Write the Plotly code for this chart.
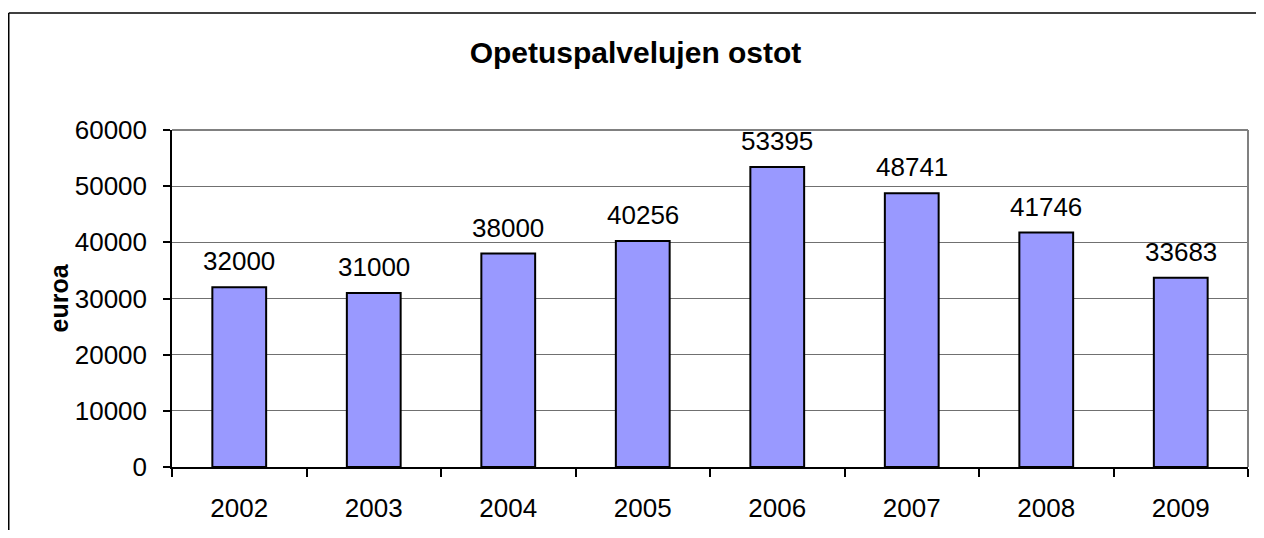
import plotly.graph_objects as go

years = ["2002", "2003", "2004", "2005", "2006", "2007", "2008", "2009"]
values = [32000, 31000, 38000, 40256, 53395, 48741, 41746, 33683]
title_text = "Opetuspalvelujen ostot"
y_title = "euroa"

FONT = "Arial, Liberation Sans, sans-serif"
FS = 26

fig = go.Figure()
fig.add_trace(go.Bar(
    x=years, y=values,
    marker=dict(color="#9999FF", line=dict(color="black", width=2)),
    width=0.4,
    hoverinfo="x+y",
))

for i, v in enumerate(values):
    fig.add_annotation(x=i, y=v, text=str(v), showarrow=False,
                       yanchor="bottom", yshift=9,
                       font=dict(family=FONT, size=FS, color="black"))

# figure sits at page offset (8, 8) because of default body margin
W, H = 1248, 522
L, R, T, B = 164, 8, 122, 63
pw, ph = W - L - R, H - T - B

fig.add_annotation(xref="paper", yref="paper", x=(50 - L) / pw, y=0.5,
                   xanchor="center", yanchor="middle",
                   text="<b>%s</b>" % y_title, textangle=-90, showarrow=False,
                   font=dict(family=FONT, size=25, color="black"))

# outer chart border (left and top)
fig.add_shape(type="line", xref="paper", yref="paper",
              x0=(0.75 - L) / pw, x1=(0.75 - L) / pw,
              y0=-(H - (H - B)) / ph - 0.01, y1=(H - B - 5) / ph,
              line=dict(color="black", width=1.5))
fig.add_shape(type="line", xref="paper", yref="paper",
              x0=(0.75 - L) / pw, x1=(W - L) / pw,
              y0=(H - B - 5) / ph, y1=(H - B - 5) / ph,
              line=dict(color="black", width=1.5))
# plot area border (top and right, gray)
fig.add_shape(type="line", xref="paper", yref="paper", x0=0, x1=1, y0=1, y1=1,
              line=dict(color="#808080", width=2))
fig.add_shape(type="line", xref="paper", yref="paper", x0=1, x1=1, y0=0, y1=1,
              line=dict(color="#808080", width=2))

fig.update_layout(
    width=W, height=H,
    margin=dict(l=L, r=R, t=T, b=B),
    paper_bgcolor="white", plot_bgcolor="white",
    showlegend=False,
    font=dict(family=FONT, size=FS, color="black"),
    title=dict(text="<b>%s</b>" % title_text, x=627.5 / W, xanchor="center",
               xref="container", y=1 - 44 / H, yanchor="middle",
               font=dict(family=FONT, size=30, color="black")),
    bargap=0.6,
)
fig.update_xaxes(
    type="category", range=[-0.5, len(years) - 0.5],
    showline=True, linecolor="black", linewidth=1.5,
    ticks="outside", tickson="boundaries", ticklen=8, tickcolor="black",
    tickwidth=1.5, showgrid=False, ticklabelstandoff=17,
    tickfont=dict(family=FONT, size=FS, color="black"),
)
fig.update_yaxes(
    range=[0, 60000], dtick=10000, tickformat="d", showline=True,
    linecolor="black", linewidth=1.5, ticks="outside", ticklen=7,
    tickcolor="black", tickwidth=1.5, showgrid=True, gridcolor="#707070",
    gridwidth=1, zeroline=False, ticklabelstandoff=11,
    tickfont=dict(family=FONT, size=FS, color="black"),
)

fig.write_html("out.html", config={"displayModeBar": False})
